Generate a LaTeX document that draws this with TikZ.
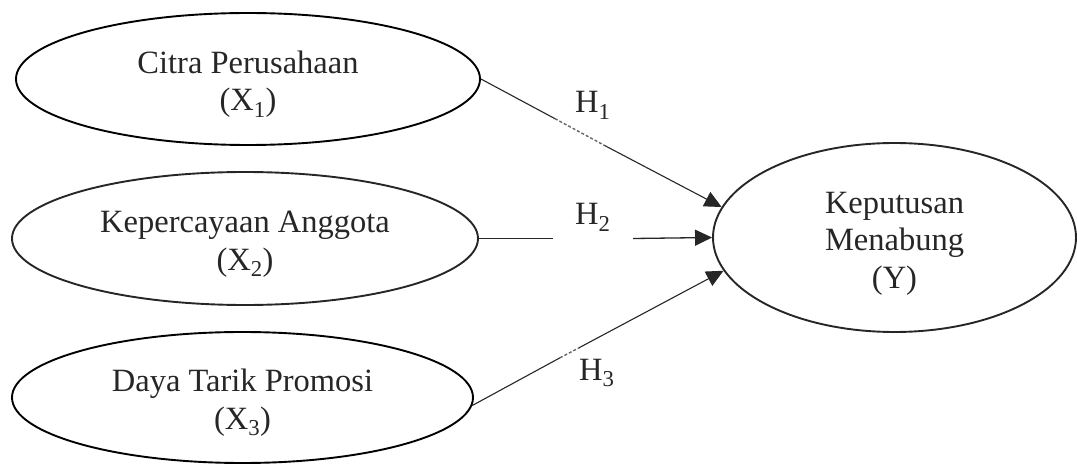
\documentclass[tikz,border=0pt]{standalone}
\usepackage{fontspec}
\setmainfont{Liberation Serif}
\usetikzlibrary{shapes.geometric,arrows.meta}

% strut that lowers the first line of a construct label
\newcommand{\firstline}{\rule{0pt}{33pt}}

\begin{document}
\begin{tikzpicture}[x=1pt,y=-1pt,
  construct/.style={ellipse,draw=#1,line width=1.9pt,inner sep=0pt,align=center,
    text=black!85,font=\fontsize{32.5}{37.5}\selectfont},
  construct/.default=black,
  path/.style={draw=black!85,line width=1.1pt,-{Triangle[length=17pt,width=16pt]}},
  plain/.style={draw=black!85,line width=1.1pt},
  faint/.style={draw=black!60,line width=1.4pt,dash pattern=on 3pt off 2pt},
  hyp/.style={anchor=base west,inner sep=0pt,text=black!85,font=\fontsize{32.5}{37.5}\selectfont}]
\useasboundingbox (0,0) rectangle (1077,465);

% exogenous constructs
\node[construct,minimum width=464pt,minimum height=132pt] (x1) at (248,79)
  {\firstline Citra Perusahaan\\(X\textsubscript{1})};
\node[construct=black!85,minimum width=466pt,minimum height=133pt] (x2) at (245,238.5)
  {\firstline Kepercayaan Anggota\\(X\textsubscript{2})};
\node[construct,minimum width=461pt,minimum height=131pt] (x3) at (242.5,397.5)
  {\firstline Daya Tarik Promosi\\(X\textsubscript{3})};

% endogenous construct
\node[construct=black!85,minimum width=363pt,minimum height=189pt] (y) at (894.5,237.5)
  {\firstline Keputusan\\Menabung\\(Y)};

% H1
\coordinate (h1a) at (555,118.7);
\coordinate (h1b) at (605,145.7);
\draw[plain] (x1.east) -- (h1a);
\draw[faint] (h1a) -- (h1b);
\draw[path] (h1b) -- (y.170);
\node[hyp] (lh1) at (575,113) {H\textsubscript{1}};

% H2
\coordinate (h2a) at (553,238.5);
\coordinate (h2b) at (633,238.5);
\draw[plain,line width=1.3pt] (x2.east) -- (h2a);
\draw[path,line width=1.3pt] (h2b) -- (y.west);
\node[hyp] (lh2) at (575,225) {H\textsubscript{2}};

% H3
\coordinate (h3a) at (560,357.8);
\coordinate (h3b) at (579,347.8);
\draw[plain] (x3.-2) -- (h3a);
\draw[faint] (h3a) -- (h3b);
\draw[path] (h3b) -- (y.191);
\node[hyp] (lh3) at (579,380) {H\textsubscript{3}};
\end{tikzpicture}
\end{document}
